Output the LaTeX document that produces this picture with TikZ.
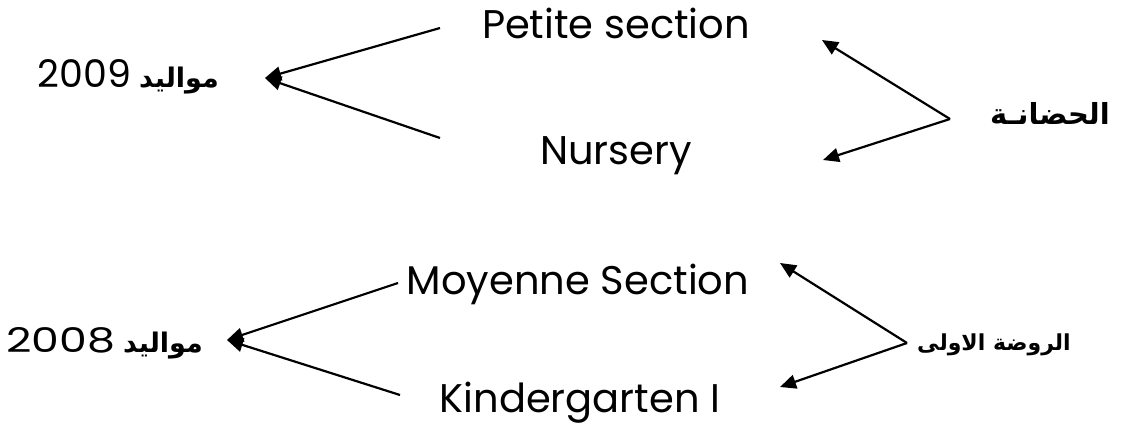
\documentclass[tikz,border=0pt]{standalone}
\usepackage{fontspec}
\usetikzlibrary{arrows.meta}
\TeXXeTstate=1
\newfontfamily\latfont{Poppins}
\newfontfamily\yearwide[FakeStretch=1.3]{Poppins}
\newfontfamily\arabicfont[Script=Arabic]{DejaVu Sans}

\begin{document}
\begin{tikzpicture}[
      x=1pt, y=-1pt,
      lat/.style={font=\latfont\fontsize{40}{48}\selectfont, inner sep=0pt, anchor=base},
      ano/.style={font=\fontsize{26}{32}\selectfont, inner sep=0pt, anchor=base east},
      ciclo/.style={font=\arabicfont\bfseries, inner sep=0pt},
      seta/.style={line width=2.2pt, -{Triangle[length=16pt,width=14pt]}}
    ]
    \useasboundingbox (0,0) rectangle (1121,428);
    % Primeiro grupo
    \node[lat] (ps) at (616,39) {Petite section};
    \node[lat] (nur) at (616,164) {Nursery};
    \node[ano] (y09) at (219,88) {{\latfont\fontsize{38}{44}\selectfont 2009} {\arabicfont\bfseries\fontsize{27}{32}\selectfont\beginR مواليد\endR}};
    \node[ciclo, font=\arabicfont\bfseries\fontsize{29}{34}\selectfont] (hadana) at (1050,113) {\beginR الحضانـة\endR};
    \coordinate (a1) at (440,28);
    \coordinate (a2) at (440,138);
    \coordinate (t09) at (265,78);
    \coordinate (hv) at (950,119);
    \coordinate (h1) at (822,40);
    \coordinate (h2) at (823,160);
    \draw[seta] (a1) -- (t09);
    \draw[seta] (a2) -- (t09);
    \draw[seta] (hv) -- (h1);
    \draw[seta] (hv) -- (h2);
    % Segundo grupo
    \node[lat] (ms) at (578,294) {Moyenne Section};
    \node[lat] (kg) at (580,412) {Kindergarten I};
    \node[ano] (y08) at (203,352) {{\yearwide\fontsize{34}{40}\selectfont 2008} {\arabicfont\bfseries\fontsize{27}{32}\selectfont\beginR مواليد\endR}};
    \node[ciclo, font=\arabicfont\bfseries\fontsize{22}{26}\selectfont] (rawda) at (994,345) {\beginR الروضة الاولى\endR};
    \coordinate (b1) at (398,283);
    \coordinate (b2) at (400,395);
    \coordinate (t08) at (227,340);
    \coordinate (rv) at (907,343);
    \coordinate (r1) at (780,263);
    \coordinate (r2) at (780,387);
    \draw[seta] (b1) -- (t08);
    \draw[seta] (b2) -- (t08);
    \draw[seta] (rv) -- (r1);
    \draw[seta] (rv) -- (r2);
  \end{tikzpicture}
\end{document}
